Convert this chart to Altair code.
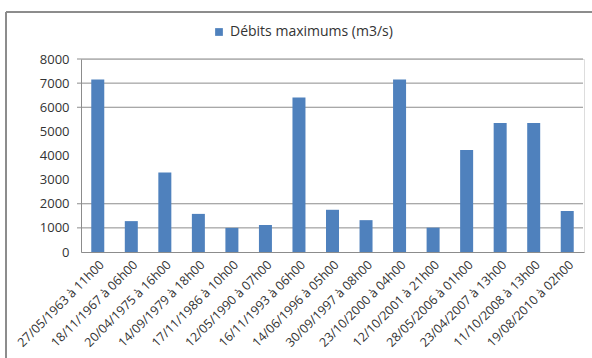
import altair as alt
import pandas as pd

dates = [
    "27/05/1963 à 11h00", "18/11/1967 à 06h00", "20/04/1975 à 16h00",
    "14/09/1979 à 18h00", "17/11/1986 à 10h00", "12/05/1990 à 07h00",
    "16/11/1993 à 06h00", "14/06/1996 à 05h00", "30/09/1997 à 08h00",
    "23/10/2000 à 04h00", "12/10/2001 à 21h00", "28/05/2006 à 01h00",
    "23/04/2007 à 13h00", "11/10/2008 à 13h00", "19/08/2010 à 02h00",
]
debits = [7150, 1280, 3300, 1580, 1000, 1120, 6400, 1750, 1320, 7150, 1010, 4230, 5350, 5350, 1700]
grid_values = [1000, 2000, 6000, 7000, 8000]
y_ticks = [0, 1000, 2000, 3000, 4000, 5000, 6000, 7000, 8000]

series_name = "Débits maximums (m3/s)"
df = pd.DataFrame({"date": dates, "debit": debits, "serie": [series_name] * len(dates)})
grid_df = pd.DataFrame({"v": grid_values})

FONT = "Open Sans"
W, H = 503, 193

y_scale = alt.Scale(domain=[0, 8000])
y_axis = alt.Axis(values=y_ticks, format="d", labelOverlap=False, title=None,
                  grid=False, ticks=False, domain=True, domainColor="#8c8c8c",
                  labelFontSize=13, labelFont=FONT, labelColor="#333333", labelPadding=12)

grid = alt.Chart(grid_df).mark_rule(color="#8c8c8c", strokeWidth=1).encode(
    y=alt.Y("v:Q", scale=y_scale, axis=y_axis, title=None),
    x=alt.value(-4),
    x2=alt.value(W - 1),
)

bars = alt.Chart(df).mark_bar(size=13).encode(
    x=alt.X("date:N", sort=None, title=None,
            scale=alt.Scale(paddingInner=0.6, paddingOuter=0.3),
            axis=alt.Axis(labelAngle=-45, labelFontSize=12.5, labelFont=FONT, labelColor="#333333",
                          ticks=False, domain=True, domainColor="#8c8c8c", labelPadding=6,
                          labelLimit=200, labelOverlap=False)),
    y=alt.Y("debit:Q", scale=y_scale, title=None, axis=y_axis),
    color=alt.Color("serie:N", scale=alt.Scale(range=["#4F81BD"]), title=None,
                    legend=alt.Legend(orient="none", legendX=131, legendY=-34, symbolType="square",
                                      symbolSize=60, labelFont=FONT, labelFontSize=14, labelLimit=400,
                                      labelColor="#333333", symbolStrokeWidth=0, labelOffset=4)),
)

frame_left = alt.Chart(df).mark_rule(stroke="#8c8c8c", strokeWidth=1).encode(
    x=alt.value(-75), y=alt.value(-47), y2=alt.value(320)
)
frame_top = alt.Chart(df).mark_rule(stroke="#8c8c8c", strokeWidth=1).encode(
    x=alt.value(-75), x2=alt.value(W + 20), y=alt.value(-47)
)

chart = alt.layer(frame_left, frame_top, grid, bars).properties(
    width=W, height=H,
    autosize=alt.AutoSizeParams(type="none"),
    padding={"left": 81, "top": 59, "right": 8, "bottom": 106},
).configure_view(stroke=None).configure(background="white")

chart.save("out.html", embed_options={"renderer": "svg", "actions": False})
